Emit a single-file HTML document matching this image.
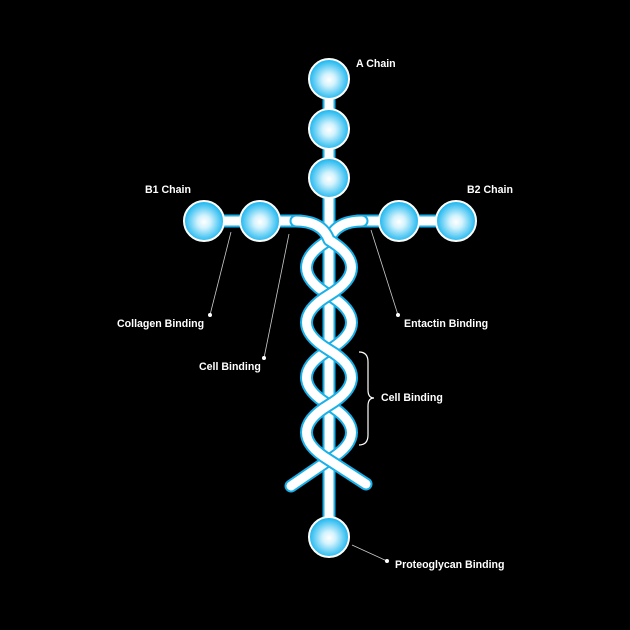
<!DOCTYPE html>
<html><head><style>
html,body{margin:0;padding:0;background:#000;width:630px;height:630px;overflow:hidden}
text{font-family:"Liberation Sans",sans-serif;font-weight:bold;font-size:10.6px;fill:#fff}
</style></head><body>
<svg width="630" height="630" viewBox="0 0 630 630" xmlns="http://www.w3.org/2000/svg">
<defs>
<radialGradient id="g" cx="50%" cy="52%" r="52%">
<stop offset="0" stop-color="#ffffff"/>
<stop offset="0.3" stop-color="#d4f3fd"/>
<stop offset="1" stop-color="#0fb2ee"/>
</radialGradient>
</defs>
<rect width="630" height="630" fill="#000"/>
<g fill="none" stroke-linecap="round" stroke-linejoin="round">
<path d="M329 79 L329 537" stroke="#1ab0e8" stroke-width="13"/>
<path d="M329 79 L329 537" stroke="#fff" stroke-width="9"/>
<path d="M204 221 L300 221" stroke="#1ab0e8" stroke-width="13"/>
<path d="M204 221 L300 221" stroke="#fff" stroke-width="9"/>
<path d="M358 221 L456 221" stroke="#1ab0e8" stroke-width="13"/>
<path d="M358 221 L456 221" stroke="#fff" stroke-width="9"/>
<path id="s2" d="M362 221 Q336 221 329 240 C299 258 299 277 329 295 C359 313 359 332 329 350 C299 368 299 387 329 405 C359 423 359 442 329 460 L291 486"/>
<use href="#s2" stroke="#1ab0e8" stroke-width="13"/>
<use href="#s2" stroke="#fff" stroke-width="9"/>
<path id="s1" d="M296 221 Q322 221 329 240 C359 258 359 277 329 295 C299 313 299 332 329 350 C359 368 359 387 329 405 C299 423 299 442 329 460 L366 484"/>
<use href="#s1" stroke="#1ab0e8" stroke-width="13"/>
<use href="#s1" stroke="#fff" stroke-width="9"/>
</g>
<g fill="url(#g)" stroke="#fff" stroke-width="2">
<circle cx="329" cy="79" r="20"/>
<circle cx="329" cy="129" r="20"/>
<circle cx="329" cy="178" r="20"/>
<circle cx="204" cy="221" r="20"/>
<circle cx="260" cy="221" r="20"/>
<circle cx="399" cy="221" r="20"/>
<circle cx="456" cy="221" r="20"/>
<circle cx="329" cy="537" r="20"/>
</g>
<g stroke="#ccc" stroke-width="0.8" fill="none">
<line x1="231" y1="232" x2="210" y2="315"/>
<line x1="289" y1="234" x2="264" y2="358"/>
<line x1="371" y1="230" x2="398" y2="315"/>
<line x1="352" y1="545" x2="387" y2="561"/>
<path d="M359 352 Q368 352 368 362 L368 390 Q368 398 374 398 Q368 398 368 406 L368 435 Q368 445 359 445" stroke="#fff" stroke-width="1.2"/>
</g>
<g fill="#fff">
<circle cx="210" cy="315" r="2"/>
<circle cx="264" cy="358" r="2"/>
<circle cx="398" cy="315" r="2"/>
<circle cx="387" cy="561" r="2"/>
</g>
<text x="356" y="67">A Chain</text>
<text x="145" y="193">B1 Chain</text>
<text x="467" y="193">B2 Chain</text>
<text x="117" y="327">Collagen Binding</text>
<text x="199" y="370">Cell Binding</text>
<text x="404" y="327">Entactin Binding</text>
<text x="381" y="401">Cell Binding</text>
<text x="395" y="568">Proteoglycan Binding</text>
</svg>
</body></html>
